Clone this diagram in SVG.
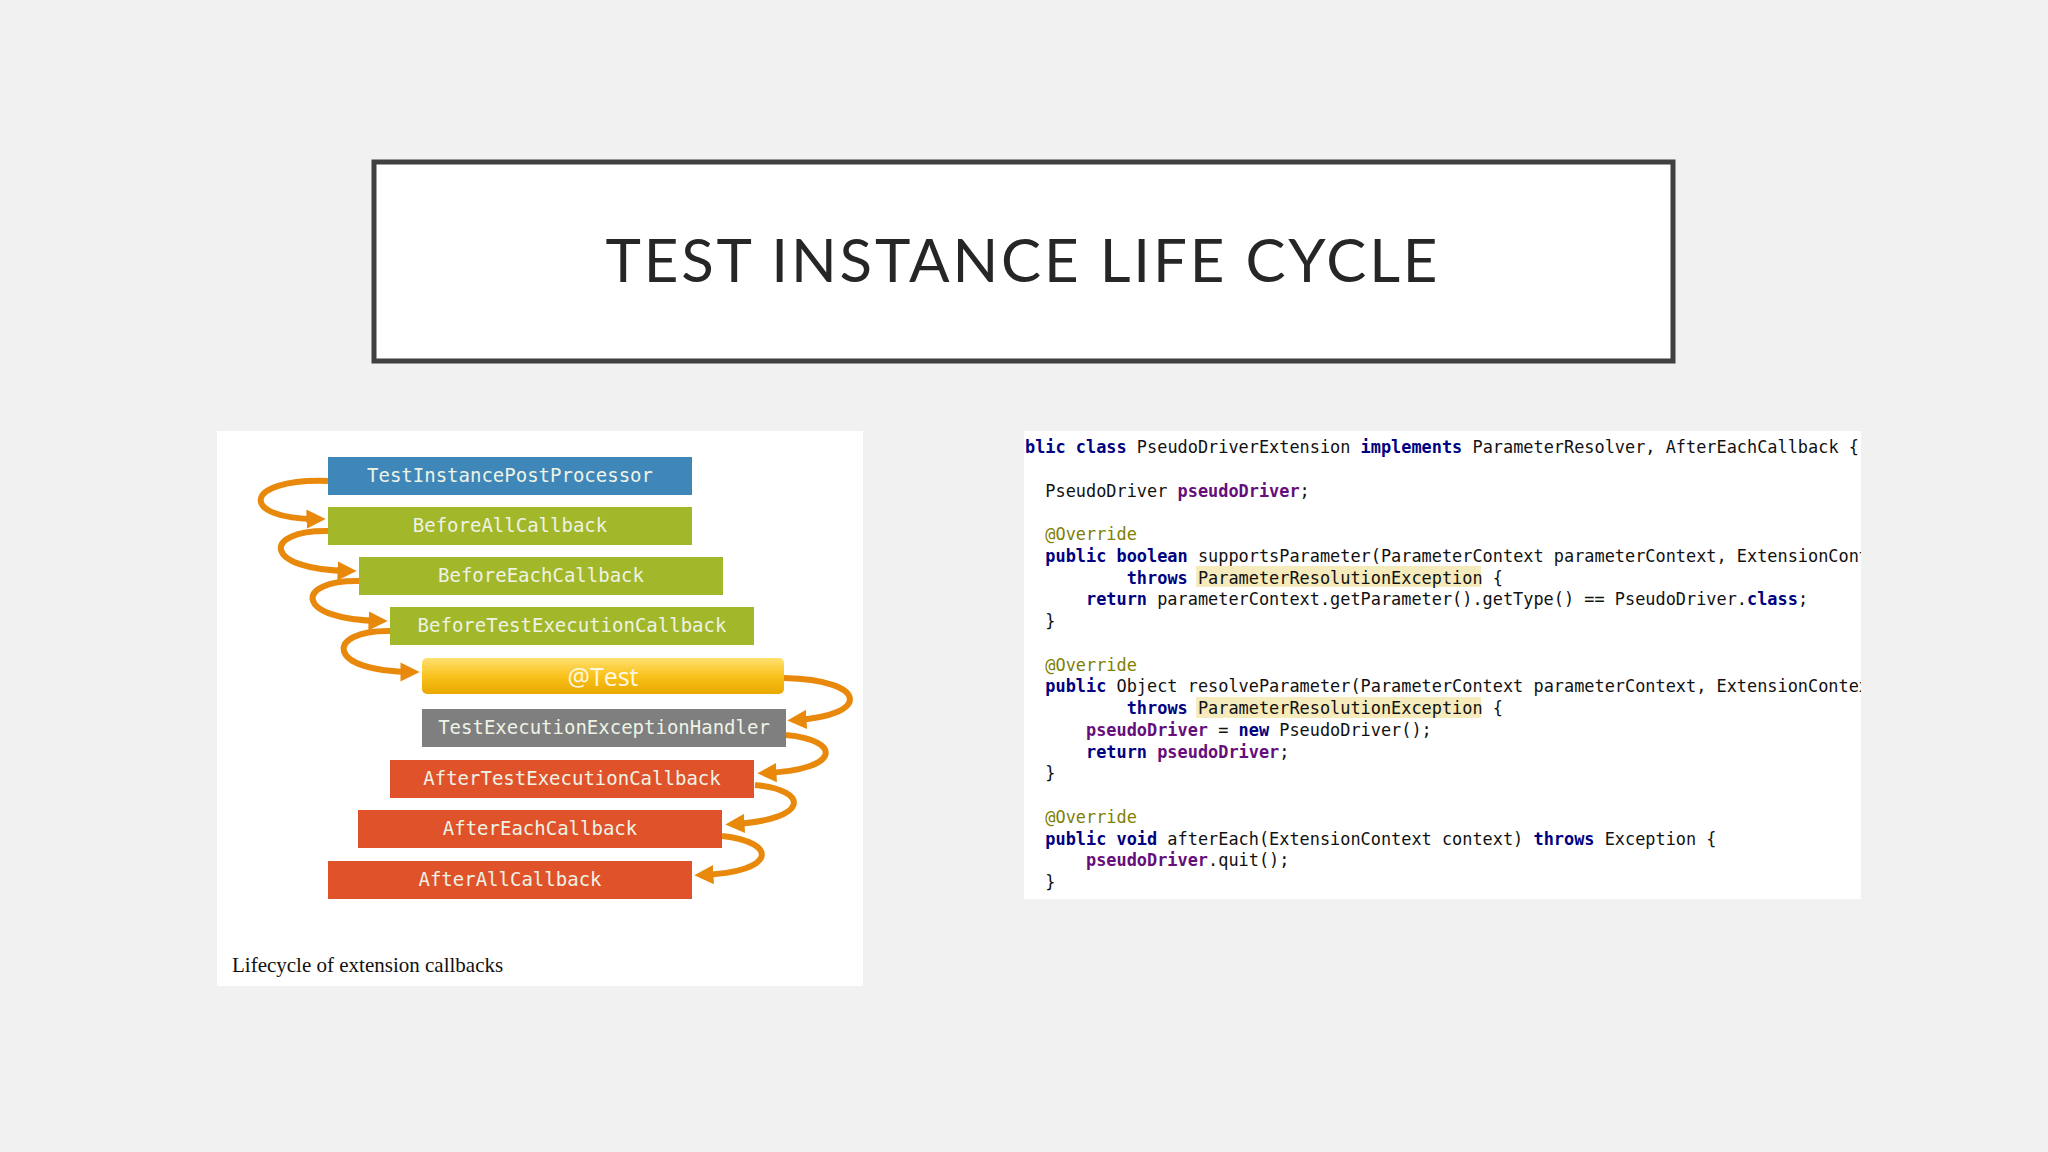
<svg xmlns="http://www.w3.org/2000/svg" width="2048" height="1152" viewBox="0 0 2048 1152">
<style>
.bt{font-family:"DejaVu Sans Mono","Liberation Mono",monospace;font-size:19px;fill:#eef3e6;text-anchor:middle}
.code text{font-family:"DejaVu Sans Mono","Liberation Mono",monospace;font-size:16.9px;fill:#111;white-space:pre}
.kw{fill:#000080;font-weight:bold}
.fd{fill:#660e7a;font-weight:bold}
.an{fill:#808000}
.arr{fill:none;stroke:#e8890c;stroke-width:6;marker-end:url(#ah)}
</style>
<defs>
<marker id="ah" viewBox="0 0 10 10" refX="6" refY="5" markerWidth="3.2" markerHeight="3.2" orient="auto" markerUnits="strokeWidth"><path d="M0,0 L10,5 L0,10 Z" fill="#e8890c"/></marker>
<linearGradient id="yg" x1="0" y1="0" x2="0" y2="1"><stop offset="0" stop-color="#ffe070"/><stop offset="0.5" stop-color="#f9c21c"/><stop offset="1" stop-color="#e8a800"/></linearGradient>
<clipPath id="cc"><rect x="1024" y="431" width="837" height="468"/></clipPath>
</defs>
<rect width="2048" height="1152" fill="#f1f1f1"/>
<g id="title">
<rect x="374" y="162" width="1299" height="199" fill="#fff" stroke="#404040" stroke-width="5"/>
<text x="1024" y="282" font-family="Lato,'Open Sans',sans-serif" font-size="60" fill="#262626" text-anchor="middle" letter-spacing="5" textLength="837">TEST INSTANCE LIFE CYCLE</text>
</g>
<rect x="217" y="431" width="646" height="555" fill="#fff"/>
<g id="connectors">
<path class="arr" d="M328,481 C240,478 240,520 318,519"/>
<path class="arr" d="M328,531 C262,530 262,570 349,571"/>
<path class="arr" d="M359,581 C294,580 294,620 380,621"/>
<path class="arr" d="M390,631 C325,630 325,672 412,672"/>
<path class="arr" d="M784,678 C870,680 870,716 795,720"/>
<path class="arr" d="M786,735 C842,740 842,770 765,773"/>
<path class="arr" d="M755,785 C810,790 810,820 733,824"/>
<path class="arr" d="M722,836 C778,842 778,872 702,875"/>
</g>
<g id="n1"><rect x="328" y="457" width="364" height="38" fill="#3f87b9"/><text class="bt" x="510" y="482">TestInstancePostProcessor</text></g>
<g id="n2"><rect x="328" y="507" width="364" height="38" fill="#a2b72a"/><text class="bt" x="510" y="532">BeforeAllCallback</text></g>
<g id="n3"><rect x="359" y="557" width="364" height="38" fill="#a2b72a"/><text class="bt" x="541" y="582">BeforeEachCallback</text></g>
<g id="n4"><rect x="390" y="607" width="364" height="38" fill="#a2b72a"/><text class="bt" x="572" y="632">BeforeTestExecutionCallback</text></g>
<g id="n5"><rect x="422" y="658" width="362" height="36" rx="5" fill="url(#yg)"/><text x="603" y="686" font-family="'Open Sans','Noto Sans',sans-serif" font-size="25" fill="#fff8e0" text-anchor="middle">@Test</text></g>
<g id="n6"><rect x="422" y="709" width="364" height="38" fill="#7f7f7f"/><text class="bt" x="604" y="734">TestExecutionExceptionHandler</text></g>
<g id="n7"><rect x="390" y="760" width="364" height="38" fill="#e0522a"/><text class="bt" x="572" y="785">AfterTestExecutionCallback</text></g>
<g id="n8"><rect x="358" y="810" width="364" height="38" fill="#e0522a"/><text class="bt" x="540" y="835">AfterEachCallback</text></g>
<g id="n9"><rect x="328" y="861" width="364" height="38" fill="#e0522a"/><text class="bt" x="510" y="886">AfterAllCallback</text></g>
<text x="232" y="972" font-family="'Liberation Serif',serif" font-size="21" fill="#111">Lifecycle of extension callbacks</text>
<g id="code">
<rect x="1024" y="431" width="837" height="468" fill="#fff"/>
<g clip-path="url(#cc)">
<rect x="1196" y="566" width="285" height="21" fill="#f6ebbc"/>
<rect x="1196" y="697" width="285" height="21" fill="#f6ebbc"/>
<g class="code">
<text x="1025" y="453"><tspan class="kw">blic class</tspan> PseudoDriverExtension <tspan class="kw">implements</tspan> ParameterResolver, AfterEachCallback {</text>
<text x="1025" y="496.5">  PseudoDriver <tspan class="fd">pseudoDriver</tspan>;</text>
<text x="1025" y="540"><tspan class="an">  @Override</tspan></text>
<text x="1025" y="561.75">  <tspan class="kw">public boolean</tspan> supportsParameter(ParameterContext parameterContext, ExtensionContext extensionContext)</text>
<text x="1025" y="583.5">          <tspan class="kw">throws</tspan> ParameterResolutionException {</text>
<text x="1025" y="605.25">      <tspan class="kw">return</tspan> parameterContext.getParameter().getType() == PseudoDriver.<tspan class="kw">class</tspan>;</text>
<text x="1025" y="627">  }</text>
<text x="1025" y="670.5"><tspan class="an">  @Override</tspan></text>
<text x="1025" y="692.25">  <tspan class="kw">public</tspan> Object resolveParameter(ParameterContext parameterContext, ExtensionContext extensionContext)</text>
<text x="1025" y="714">          <tspan class="kw">throws</tspan> ParameterResolutionException {</text>
<text x="1025" y="735.75">      <tspan class="fd">pseudoDriver</tspan> = <tspan class="kw">new</tspan> PseudoDriver();</text>
<text x="1025" y="757.5">      <tspan class="kw">return</tspan> <tspan class="fd">pseudoDriver</tspan>;</text>
<text x="1025" y="779.25">  }</text>
<text x="1025" y="822.75"><tspan class="an">  @Override</tspan></text>
<text x="1025" y="844.5">  <tspan class="kw">public void</tspan> afterEach(ExtensionContext context) <tspan class="kw">throws</tspan> Exception {</text>
<text x="1025" y="866.25">      <tspan class="fd">pseudoDriver</tspan>.quit();</text>
<text x="1025" y="888">  }</text>
</g>
</g>
</g>
</svg>
